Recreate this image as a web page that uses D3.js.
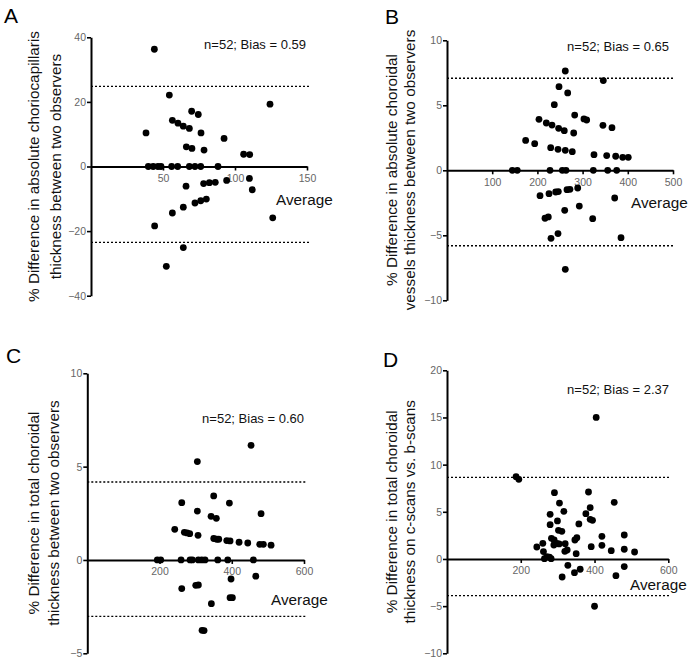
<!DOCTYPE html>
<html>
<head>
<meta charset="utf-8">
<script src="https://cdn.jsdelivr.net/npm/d3@7"></script>
<style>
  html, body { margin: 0; padding: 0; background: #fff; }
  svg { display: block; font-family: "Liberation Sans", Arial, sans-serif; }
</style>
</head>
<body>
<svg id="chart" width="700" height="669"></svg>
<script>
// ---------- DATA ----------
// Panel A: absolute choriocapillaris thickness
const aAvg  = [44,38.2,54.4,56.5,60.4,64.1,68.3,69.9,74.5,76.4,66.2,70.1,78.5,92.4,106,110.2,124.3,
               39.8,43.2,46.5,48.6,56.0,60.2,68.3,72.2,76.2,88.2,
               66,78.2,82.2,86.3,94.2,110,112,72.2,76.2,80.1,64.1,56.5,44.2,126.2,64.1,52.3];
const aDiff = [36.3,10.4,22.1,14.3,13.4,12.5,11.8,17.1,16.1,10.4,6.1,5.6,5.1,8.7,3.8,3.7,19.3,
               0,0,0,0,0,0,0,0,0,0,
               -6.1,-5.3,-5.0,-4.9,-4.3,-3.7,-7.2,-11.3,-10.6,-10.1,-12.6,-14.4,-18.4,-15.9,-25.1,-30.9];
const aLimits = [24.8, -23.5];
const aXTicks = [50, 100, 150];
const aYTicks = [-40, -20, 0, 20, 40];

// Panel B: absolute choroidal vessels thickness
const bAvg  = [261.7,345.8,247.8,267,237.4,282.5,203.5,303,309,219.7,232.3,247,259.5,280.3,345,365,174,194,229.4,245.6,261.7,277.2,325.2,353.3,373.2,388.7,401,
               144.5,155.5,227.9,255.1,263.3,323.7,355.5,375.4,
               205.8,225.7,240.5,246.3,265.5,272,289.2,371,292.7,260.4,216.8,224.1,322.3,230.1,245.6,385,261.7];
const bDiff = [7.64,6.9,6.43,5.95,5.05,4.25,3.92,3.95,3.87,3.64,3.48,3.23,3.05,2.87,3.46,3.28,2.3,2.05,1.74,1.61,1.54,1.43,1.2,1.13,1.08,1.0,1.0,
               0,0,0,0,0,0,0,0,
               -1.95,-1.8,-1.67,-1.64,-1.49,-1.46,-1.36,-2.13,-2.75,-3.08,-3.69,-3.59,-3.72,-5.23,-4.87,-5.18,-7.62];
const bLimits = [7.08, -5.8];
const bXTicks = [100, 200, 300, 400, 500];
const bYTicks = [-10, -5, 0, 5, 10];

// Panel C: total choroidal thickness, two observers
const cAvg  = [453.4,304.7,350,261.5,393.4,304.7,481.1,342.7,357.3,242.1,268.7,276.2,283.6,306.6,350.1,358.4,364,386.1,395.3,420.2,444.3,477.5,487.5,508.8,
               193.9,203.3,259.6,284.5,290.9,307.5,316.9,326,361.2,388.9,459.8,
               398,466.5,261.5,300.3,307.5,395.3,401.7,343.5,317.7,323.3];
const cDiff = [6.14,5.27,3.43,3.07,3.05,2.62,2.48,2.34,2.23,1.64,1.48,1.45,1.41,1.32,1.15,1.11,1.11,1.04,1.02,0.95,0.91,0.84,0.84,0.79,
               0,0,0,0,0,0,0,0,0,0,0,
               -1.02,-0.87,-1.53,-1.36,-1.34,-2.02,-2.02,-2.34,-3.77,-3.78];
const cLimits = [4.18, -3.02];
const cXTicks = [200, 400, 600];
const cYTicks = [-5, 0, 5, 10];

// Panel D: total choroidal thickness, c-scans vs b-scans
const dAvg  = [404.5,187.3,194.7,291.3,383.6,304.9,453.4,388.2,316.8,279.6,376.5,388.2,394.5,299.5,279.6,357.5,302.2,311.4,352.1,346.7,
               420,480.6,283.2,290.5,259.8,297.8,304.1,320.4,243.5,289.7,391,420,261.5,319.5,325.8,350.2,445.3,480.6,508.6,
               264.2,270.7,277.7,282.4,327.7,361.1,345.6,312.2,480.6,458,400];
const dDiff = [15.0,8.72,8.44,7.03,7.1,5.93,6.0,5.44,5.05,4.73,4.8,4.2,4.1,4.03,3.63,3.71,3.04,2.93,2.26,2.01,
               2.4,2.54,2.19,2.01,1.66,1.66,1.59,1.62,1.27,1.48,1.3,1.45,0.78,0.81,0.95,0.56,0.88,1.03,0.74,
               0.03,0.24,0.18,0.03,-0.67,-1.09,-1.45,-1.91,-0.81,-1.77,-5.01];
const dLimits = [8.65, -3.89];
const dXTicks = [200, 400, 600];
const dYTicks = [-10, -5, 0, 5, 10, 15, 20];

const panelLetters = ["A", "B", "C", "D"];
const notes = ["n=52; Bias = 0.59", "n=52; Bias = 0.65", "n=52; Bias = 0.60", "n=52; Bias = 2.37"];
const xTitle = "Average";
const yTitles = [
  ["% Difference in absolute choriocapillaris", "thickness between two observers"],
  ["% Difference in absolute choroidal", "vessels thickness between two observers"],
  ["% Difference in total choroidal", "thickness between two observers"],
  ["% Difference in total choroidal", "thickness on c-scans vs. b-scans"]
];

// ---------- LAYOUT ----------
const panels = [
  {avg:aAvg, diff:aDiff, lim:aLimits, xt:aXTicks, yt:aYTicks, xd:[0,150], yd:[-40,40],
   xr:[91,307], yr:[295.7,37.3], letter:[4,23], note:[306,49], ave:[276,205], tl:[33.5,55], tc:166.5},
  {avg:bAvg, diff:bDiff, lim:bLimits, xt:bXTicks, yt:bYTicks, xd:[0,500], yd:[-10,10],
   xr:[447,673], yr:[300.3,40.3], letter:[385,24], note:[669,51], ave:[631,208], tl:[391.5,409], tc:170},
  {avg:cAvg, diff:cDiff, lim:cLimits, xt:cXTicks, yt:cYTicks, xd:[0,600], yd:[-5,10],
   xr:[87.3,304], yr:[653.3,373.3], letter:[6,363], note:[304,423], ave:[271,605], tl:[33.5,53], tc:513},
  {avg:dAvg, diff:dDiff, lim:dLimits, xt:dXTicks, yt:dYTicks, xd:[0,600], yd:[-10,20],
   xr:[447,668.3], yr:[653.3,370.3], letter:[383,367], note:[669,394], ave:[630,590], tl:[391.5,409], tc:511.8}
];

const svg = d3.select("#chart");
const tickColor = "#666";

panels.forEach((p, i) => {
  const x = d3.scaleLinear().domain(p.xd).range(p.xr);
  const y = d3.scaleLinear().domain(p.yd).range(p.yr);
  const g = svg.append("g");

  // limits of agreement (dotted)
  p.lim.forEach(v => {
    g.append("line")
      .attr("x1", p.xr[0]).attr("x2", p.xr[1] + 2)
      .attr("y1", y(v)).attr("y2", y(v))
      .attr("stroke", "#000").attr("stroke-width", 1.4)
      .attr("stroke-dasharray", "2,2");
  });

  // y axis
  const ya = g.append("g").attr("transform", `translate(${p.xr[0]},0)`)
    .call(d3.axisLeft(y).tickValues(p.yt).tickSize(4).tickSizeOuter(0).tickPadding(1).tickFormat(d3.format("d")));
  // x axis at y=0
  const xa = g.append("g").attr("transform", `translate(0,${y(0)})`)
    .call(d3.axisBottom(x).tickValues(p.xt).tickSize(4).tickSizeOuter(0).tickPadding(4).tickFormat(d3.format("d")));

  [ya, xa].forEach(a => {
    a.select(".domain").attr("stroke", "#000").attr("stroke-width", 2);
    a.selectAll(".tick line").attr("stroke", "#000").attr("stroke-width", 1.6);
    a.selectAll(".tick text").attr("fill", tickColor)
      .style("font-size", "10.5px").style("font-family", "'Liberation Sans', Arial, sans-serif");
  });

  // points
  g.append("g").selectAll("circle")
    .data(p.avg.map((v, k) => [v, p.diff[k]]))
    .join("circle")
    .attr("cx", d => x(d[0])).attr("cy", d => y(d[1]))
    .attr("r", 3.4).attr("fill", "#000");

  // panel letter
  g.append("text").attr("x", p.letter[0]).attr("y", p.letter[1])
    .style("font-size", "21px").attr("fill", "#000").text(panelLetters[i]);

  // annotation
  g.append("text").attr("x", p.note[0]).attr("y", p.note[1])
    .attr("text-anchor", "end").style("font-size", "13px").attr("fill", "#111").text(notes[i]);

  // x title
  g.append("text").attr("x", p.ave[0]).attr("y", p.ave[1])
    .style("font-size", "15.3px").attr("fill", "#111").text(xTitle);

  // y title (two lines, rotated)
  yTitles[i].forEach((t, k) => {
    g.append("text")
      .attr("transform", `translate(${p.tl[k]},${p.tc}) rotate(-90)`)
      .attr("text-anchor", "middle").attr("dominant-baseline", "central")
      .style("font-size", "15.3px").attr("fill", "#111").text(t);
  });
});
</script>
</body>
</html>
